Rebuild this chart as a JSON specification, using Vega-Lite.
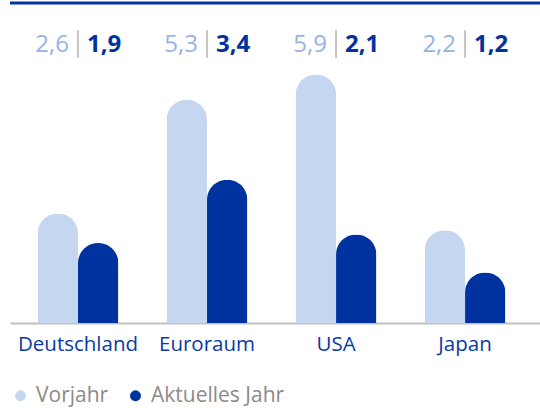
{
  "$schema": "https://vega.github.io/schema/vega-lite/v6.json",
  "autosize": {"type": "none"},
  "width": 530,
  "height": 320,
  "padding": {"left": 10, "top": 3, "right": 0, "bottom": 85},
  "background": "white",
  "config": {"view": {"stroke": null}, "font": "Open Sans"},
  "datasets": {
    "bars": [
      {"land": "Deutschland", "serie": "Vorjahr", "wert": 2.6},
      {"land": "Deutschland", "serie": "Aktuelles Jahr", "wert": 1.9},
      {"land": "Euroraum", "serie": "Vorjahr", "wert": 5.3},
      {"land": "Euroraum", "serie": "Aktuelles Jahr", "wert": 3.4},
      {"land": "USA", "serie": "Vorjahr", "wert": 5.9},
      {"land": "USA", "serie": "Aktuelles Jahr", "wert": 2.1},
      {"land": "Japan", "serie": "Vorjahr", "wert": 2.2},
      {"land": "Japan", "serie": "Aktuelles Jahr", "wert": 1.2}
    ],
    "labels": [
      {"land": "Deutschland", "vorjahr": "2,6", "aktuell": "1,9"},
      {"land": "Euroraum", "vorjahr": "5,3", "aktuell": "3,4"},
      {"land": "USA", "vorjahr": "5,9", "aktuell": "2,1"},
      {"land": "Japan", "vorjahr": "2,2", "aktuell": "1,2"}
    ]
  },
  "layer": [
    {
      "data": {"name": "bars"},
      "mark": {"type": "bar", "cornerRadiusTopLeft": 20, "cornerRadiusTopRight": 20},
      "encoding": {
        "x": {
          "field": "land", "type": "nominal",
          "sort": ["Deutschland", "Euroraum", "USA", "Japan"],
          "scale": {"paddingInner": 0, "paddingOuter": 0.054, "align": 0.25},
          "axis": {
            "title": null, "labelAngle": 0, "ticks": false,
            "labelFont": "Open Sans", "labelFontSize": 20.5, "labelFontWeight": 400, "labelColor": "#0a3aa5",
            "labelPadding": 11, "domainColor": "#c4c0bc", "domainWidth": 2
          }
        },
        "xOffset": {
          "field": "serie", "type": "nominal",
          "sort": ["Vorjahr", "Aktuelles Jahr"],
          "scale": {"paddingInner": 0, "paddingOuter": 0.6}
        },
        "y": {
          "field": "wert", "type": "quantitative",
          "scale": {"domain": [0, 7.6], "nice": false, "zero": true},
          "axis": null
        },
        "color": {
          "field": "serie", "type": "nominal",
          "sort": ["Vorjahr", "Aktuelles Jahr"],
          "scale": {"domain": ["Vorjahr", "Aktuelles Jahr"], "range": ["#c5d6f1", "#0033a0"]},
          "legend": {
            "title": null, "orient": "bottom", "direction": "horizontal",
            "symbolType": "circle", "symbolSize": 120, "symbolStrokeWidth": 0,
            "labelFont": "Open Sans", "labelFontSize": 21, "labelFontWeight": 400, "labelColor": "#8f8985",
            "labelOffset": 5, "columnPadding": 16, "offset": 30, "padding": 0
          }
        }
      }
    },
    {
      "data": {"name": "labels"},
      "mark": {"type": "text", "align": "right", "baseline": "middle", "dx": -9, "fontSize": 24, "fontWeight": 500, "color": "#98b3e3"},
      "encoding": {
        "x": {"field": "land", "type": "nominal", "sort": ["Deutschland", "Euroraum", "USA", "Japan"], "bandPosition": 0.5},
        "y": {"datum": 6.6, "type": "quantitative"},
        "text": {"field": "vorjahr"}
      }
    },
    {
      "data": {"name": "labels"},
      "mark": {"type": "text", "align": "left", "baseline": "middle", "dx": 9, "fontSize": 24, "fontWeight": "bold", "color": "#0033a0"},
      "encoding": {
        "x": {"field": "land", "type": "nominal", "sort": ["Deutschland", "Euroraum", "USA", "Japan"], "bandPosition": 0.5},
        "y": {"datum": 6.6, "type": "quantitative"},
        "text": {"field": "aktuell"}
      }
    },
    {
      "data": {"name": "labels"},
      "mark": {"type": "rule", "color": "#b8b0aa", "strokeWidth": 1.5},
      "encoding": {
        "x": {"field": "land", "type": "nominal", "sort": ["Deutschland", "Euroraum", "USA", "Japan"], "bandPosition": 0.5},
        "y": {"datum": 6.95, "type": "quantitative"},
        "y2": {"datum": 6.3}
      }
    },
    {
      "data": {"values": [{"top": 7.6}]},
      "mark": {"type": "rule", "color": "#0033a0", "strokeWidth": 3},
      "encoding": {
        "y": {"field": "top", "type": "quantitative"}
      }
    }
  ]
}
